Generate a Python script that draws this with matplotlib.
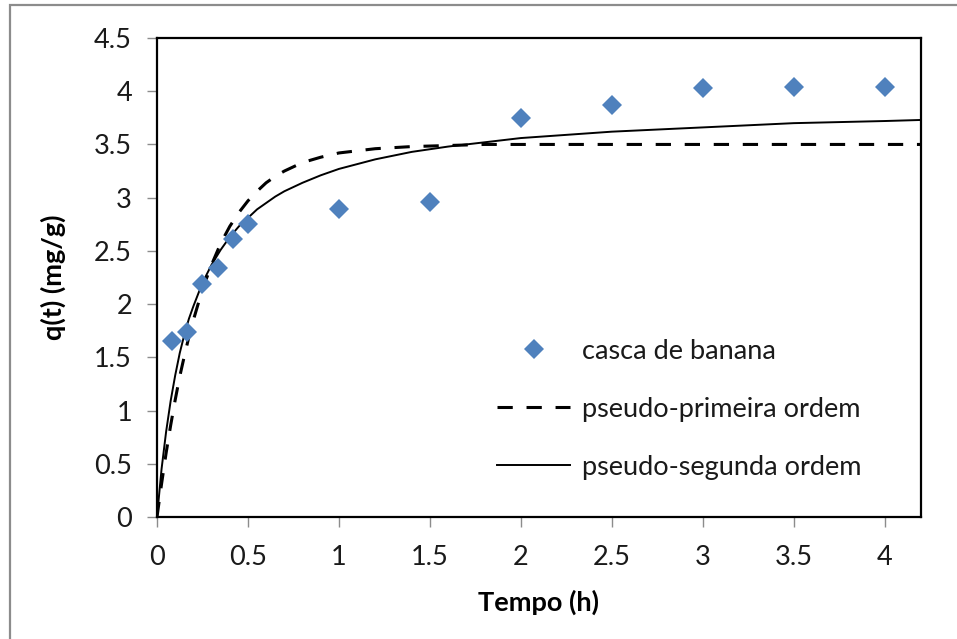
import matplotlib
matplotlib.use("Agg")
import matplotlib.pyplot as plt
from matplotlib.patches import Rectangle

plt.rcParams['font.family'] = ['Lato', 'DejaVu Sans']

# dados experimentais (casca de banana)
tempo = [0.083, 0.167, 0.25, 0.333, 0.417, 0.5, 1.0, 1.5, 2.0, 2.5, 3.0, 3.5, 4.0]
q_exp = [1.65, 1.74, 2.19, 2.34, 2.61, 2.75, 2.89, 2.96, 3.75, 3.87, 4.03, 4.04, 4.04]

# curvas dos modelos
t_mod = [0, 0.025, 0.05, 0.075, 0.1, 0.125, 0.15, 0.175, 0.2, 0.25, 0.3, 0.35, 0.4, 0.45, 0.5,
         0.55, 0.6, 0.65, 0.7, 0.75, 0.8, 0.9, 1.0, 1.2, 1.4, 1.6, 1.8, 2.0, 2.5, 3.0, 3.5, 4.0, 4.2]
q_pfo = [0, 0.31, 0.60, 0.86, 1.10, 1.32, 1.51, 1.69, 1.85, 2.14, 2.37, 2.57, 2.73, 2.86, 2.97,
         3.06, 3.14, 3.20, 3.25, 3.29, 3.33, 3.38, 3.42, 3.46, 3.48, 3.49, 3.50, 3.50, 3.50, 3.50,
         3.50, 3.50, 3.50]
q_pso = [0, 0.45, 0.80, 1.09, 1.33, 1.54, 1.71, 1.86, 1.98, 2.20, 2.37, 2.51, 2.63, 2.73, 2.81,
         2.89, 2.95, 3.01, 3.06, 3.10, 3.14, 3.21, 3.27, 3.36, 3.43, 3.48, 3.52, 3.56, 3.62, 3.66,
         3.70, 3.72, 3.73]

yticks = [0, 0.5, 1, 1.5, 2, 2.5, 3, 3.5, 4, 4.5]
xticks = [0, 0.5, 1, 1.5, 2, 2.5, 3, 3.5, 4]

fig = plt.figure(figsize=(9.57, 6.39), dpi=100)
ax = fig.add_axes([157/957, 122/639, 764/957, 479/639])

# moldura cinza do grafico (cortada a direita e embaixo)
fig.patches.append(Rectangle((10/957, -0.5), 2, 1 - 5/639 + 0.5, transform=fig.transFigure,
                             fill=False, edgecolor='#8c8c8c', linewidth=1.6))

ax.plot(tempo, q_exp, linestyle='none', marker='D', markersize=10.5, markeredgewidth=0,
        color='#4F81BD', label='casca de banana', zorder=3)
ax.plot(t_mod, q_pfo, color='black', linewidth=2.2, dashes=(5, 4.5), label='pseudo-primeira ordem')
ax.plot(t_mod, q_pso, color='black', linewidth=1.4, label='pseudo-segunda ordem')

ax.set_xlim(0, 4.2)
ax.set_ylim(0, 4.5)
ax.set_xticks(xticks)
ax.set_yticks(yticks)
ax.set_xticklabels(['%g' % v for v in xticks])
ax.set_yticklabels(['%g' % v for v in yticks])
ax.tick_params(direction='out', length=7, width=1, color='#8c8c8c', labelsize=19.5,
               labelcolor='#1a1a1a')
ax.tick_params(axis='y', pad=11)
ax.tick_params(axis='x', pad=13)
for s in ax.spines.values():
    s.set_linewidth(1.6)
    s.set_color('black')

ax.set_xlabel('Tempo (h)', fontsize=19.5, fontweight='bold', labelpad=14)
ax.set_ylabel('q(t) (mg/g)', fontsize=19.5, fontweight='bold', labelpad=20)

ax.legend(loc='upper left', bbox_to_anchor=(0.445, 0.372), frameon=False, fontsize=19.5,
          handlelength=2.7, handletextpad=0.45, labelspacing=1.22, borderpad=0, borderaxespad=0,
          markerscale=0.95, labelcolor='#1a1a1a')

fig.savefig('out.png', dpi=100)
